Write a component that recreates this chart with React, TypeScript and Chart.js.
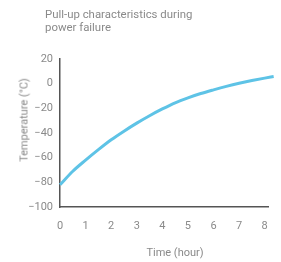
import React, { useEffect, useRef } from "react";
import { Chart, registerables } from "chart.js";

Chart.register(...registerables);

const titleLines = ["Pull-up characteristics during", "power failure"];
const xAxisTitle = "Time (hour)";
const yAxisTitle = "Temperature (°C)";
const xTicks = [0, 1, 2, 3, 4, 5, 6, 7, 8];
const yTicks = [20, 0, -20, -40, -60, -80, -100];
const hours = [0, 0.5, 1, 1.5, 2, 2.5, 3, 3.5, 4, 4.5, 5, 5.5, 6, 6.5, 7, 7.5, 8, 8.35];
const temps = [-82, -71, -62, -53.5, -45.5, -38.5, -32, -26, -20.5, -15.5, -11.5, -8, -5, -2.2, 0.3, 2.5, 4.5, 5.8];

const FONT = "Roboto, sans-serif";
const TEXT = "#8a8a8a";
const AXIS = "#555555";
const LINE = "#5ec3e6";

export default function App() {
  const ref = useRef<HTMLCanvasElement | null>(null);
  useEffect(() => {
    document.body.style.margin = "0";
    const canvas = ref.current;
    if (!canvas) return;
    const chart = new Chart(canvas, {
      type: "line",
      data: {
        datasets: [
          {
            data: hours.map((h, i) => ({ x: h, y: temps[i] })),
            borderColor: LINE,
            borderWidth: 3,
            pointRadius: 0,
            cubicInterpolationMode: "monotone",
            fill: false,
            clip: false as any,
          },
        ],
      },
      options: {
        animation: false,
        responsive: false,
        layout: { padding: { top: 59, right: 11, left: 0, bottom: 0 } },
        plugins: { legend: { display: false }, tooltip: { enabled: false }, title: { display: false } },
        scales: {
          x: {
            type: "linear",
            min: 0,
            max: 8.15,
            afterBuildTicks: (s: any) => {
              s.ticks = xTicks.map((v) => ({ value: v }));
            },
            afterFit: (s: any) => {
              s.height = 55;
            },
            grid: { display: false, drawTicks: false },
            border: { display: true, color: AXIS, width: 1.5 },
            ticks: { color: TEXT, font: { family: FONT, size: 11 }, padding: 13, maxRotation: 0 },
            title: { display: false },
          },
          y: {
            type: "linear",
            min: -100,
            max: 20,
            afterBuildTicks: (s: any) => {
              s.ticks = yTicks.map((v) => ({ value: v }));
            },
            afterFit: (s: any) => {
              s.width = 60;
            },
            grid: { display: false, drawTicks: false },
            border: { display: true, color: AXIS, width: 1.5 },
            ticks: {
              color: TEXT,
              font: { family: FONT, size: 11 },
              padding: 7,
              callback: (v: any) => String(v).replace("-", "\u2212"),
            },
            title: { display: false },
          },
        },
      },
    });
    return () => chart.destroy();
  }, []);
  const textStyle: React.CSSProperties = {
    position: "absolute",
    fontFamily: FONT,
    fontSize: 11,
    lineHeight: "13px",
    color: TEXT,
    whiteSpace: "nowrap",
  };
  return (
    <div style={{ position: "absolute", left: 0, top: 0, width: 281, height: 262 }}>
      <canvas ref={ref} width={281} height={262} style={{ position: "absolute", left: 0, top: 0 }} />
      <div style={{ ...textStyle, left: 45, top: 8, fontSize: 11.4 }}>
        {titleLines.map((t, i) => (
          <div key={i}>{t}</div>
        ))}
      </div>
      <div
        style={{
          ...textStyle,
          left: 175,
          top: 252,
          transform: "translate(-50%, -50%)",
        }}
      >
        {xAxisTitle}
      </div>
      <div
        style={{
          ...textStyle,
          left: 24,
          top: 120,
          transform: "translate(-50%, -50%) rotate(-90deg)",
        }}
      >
        {yAxisTitle}
      </div>
    </div>
  );
}
